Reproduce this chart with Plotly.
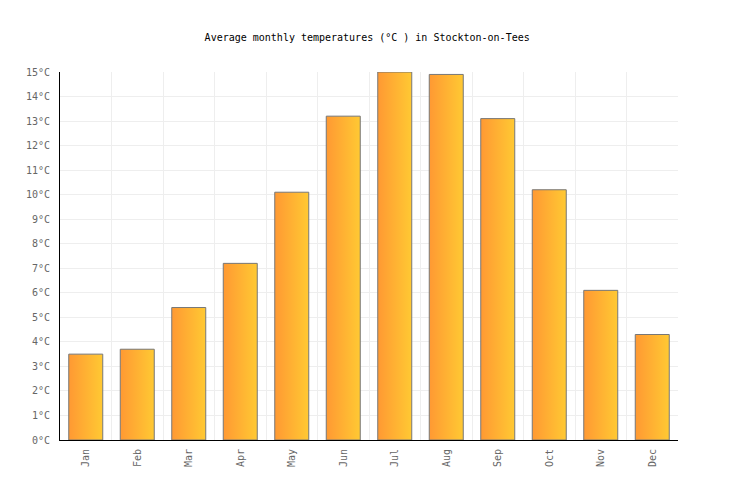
import plotly.graph_objects as go

# monthly averages
months = ["Jan", "Feb", "Mar", "Apr", "May", "Jun", "Jul", "Aug", "Sep", "Oct", "Nov", "Dec"]
temps = [3.5, 3.7, 5.4, 7.2, 10.1, 13.2, 15.0, 14.9, 13.1, 10.2, 6.1, 4.3]
y_ticks = list(range(0, 16))
y_tick_labels = [f"{v}°C" for v in y_ticks]

title = "Average monthly temperatures (°C ) in Stockton-on-Tees"
font_family = "DejaVu Sans Mono, Liberation Mono, monospace"

bar_width = 0.66

fig = go.Figure()

# plotly bars can't do gradients, so each bar is a filled scatter box
for i, (month, temp) in enumerate(zip(months, temps)):
    x0, x1 = i - bar_width / 2, i + bar_width / 2
    fig.add_trace(go.Scatter(
        x=[x0, x0, x1, x1, x0],
        y=[0, temp, temp, 0, 0],
        mode="lines",
        fill="toself",
        fillgradient=dict(type="horizontal",
                          colorscale=[[0, "#ff9933"], [1, "#ffc933"]]),
        line=dict(color="#777777", width=1),
        name=month,
        hoveron="fills",
        hovertemplate=f"{month}: {temp}°C<extra></extra>",
        showlegend=False,
    ))

# the page body adds an 8px offset, margins compensate for it
fig.update_layout(
    width=736, height=500,
    margin=dict(l=52, r=66, t=64, b=68),
    paper_bgcolor="white",
    plot_bgcolor="white",
    font=dict(family=font_family, size=10, color="#666666"),
    title=dict(text=title, x=0.488, xanchor="center", y=0.942, yanchor="middle",
               font=dict(family=font_family, size=10, color="#000000")),
)

fig.update_xaxes(
    range=[-0.5, len(months) - 0.5],
    tickvals=list(range(len(months))),
    ticktext=months,
    tickangle=-90,
    showgrid=False,
    zeroline=False,
    showline=True, linecolor="#000000", linewidth=1,
    ticks="",
    ticklabelstandoff=4,
    minor=dict(tickvals=[i + 0.5 for i in range(len(months))],
               showgrid=True, gridcolor="#eeeeee", gridwidth=1),
    fixedrange=True,
)

fig.update_yaxes(
    range=[0, 15],
    tickvals=y_ticks,
    ticktext=y_tick_labels,
    showgrid=True, gridcolor="#eeeeee", gridwidth=1,
    zeroline=False,
    showline=True, linecolor="#000000", linewidth=1,
    ticks="",
    ticklabelstandoff=7,
    fixedrange=True,
)

fig.write_html("out.html")
